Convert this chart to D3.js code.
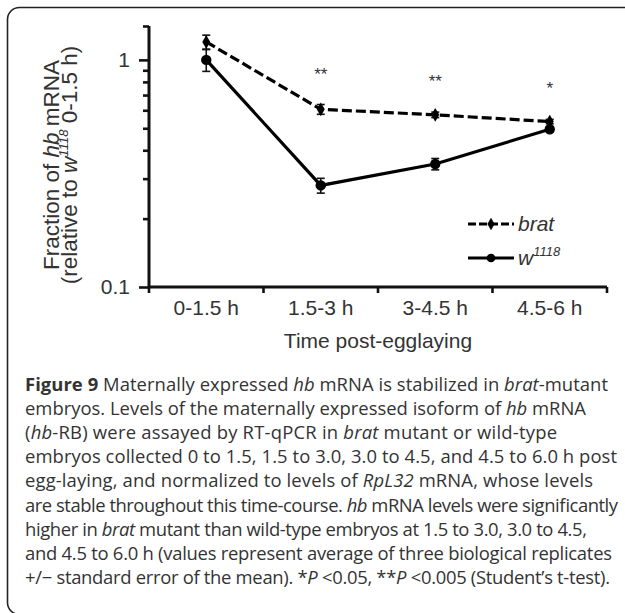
<!DOCTYPE html>
<html><head><meta charset="utf-8">
<script src="https://cdn.jsdelivr.net/npm/d3@7"></script>
<style>
body{margin:0;background:#fff}
svg{display:block}
</style>
</head><body>
<svg id="fig" width="625" height="613"></svg>
<script>
// Time windows after egg laying
const categories = ["0-1.5 h", "1.5-3 h", "3-4.5 h", "4.5-6 h"];
// hb mRNA fraction (relative to w1118 at 0-1.5 h), mean and SEM
const bratMean = [1.20, 0.606, 0.573, 0.535];
const bratErr  = [0.085, 0.030, 0.016, 0.012];
const wMean    = [1.00, 0.280, 0.348, 0.495];
const wErr     = [0.110, 0.021, 0.020, 0.012];
// Student's t-test marks per time window
const significance = ["", "**", "**", "*"];
// y axis ticks
const yMajorTicks = [0.1, 1];
const yMinorTicks = [0.2, 0.3, 0.4, 0.5, 0.6, 0.7, 0.8, 0.9];

// caption, one entry per typeset line: [style, text] runs
const captionLines = [
  [["b","Figure 9"],["n"," Maternally expressed "],["i","hb"],["n"," mRNA is stabilized in "],["i","brat"],["n","-mutant"]],
  [["n","embryos. Levels of the maternally expressed isoform of "],["i","hb"],["n"," mRNA"]],
  [["n","("],["i","hb"],["n","-RB) were assayed by RT-qPCR in "],["i","brat"],["n"," mutant or wild-type"]],
  [["n","embryos collected 0 to 1.5, 1.5 to 3.0, 3.0 to 4.5, and 4.5 to 6.0 h post"]],
  [["n","egg-laying, and normalized to levels of "],["i","RpL32"],["n"," mRNA, whose levels"]],
  [["n","are stable throughout this time-course. "],["i","hb"],["n"," mRNA levels were significantly"]],
  [["n","higher in "],["i","brat"],["n"," mutant than wild-type embryos at 1.5 to 3.0, 3.0 to 4.5,"]],
  [["n","and 4.5 to 6.0 h (values represent average of three biological replicates"]],
  [["n","+/\u2212 standard error of the mean). *"],["i","P"],["n"," <0.05, **"],["i","P"],["n"," <0.005 (Student\u2019s t-test)."]]
];
// typeset width of each caption line
const captionWidths = [583, 561, 532, 592, 568, 593, 562, 587, 585];

const svg = d3.select("#fig");
const chartFont = "'Liberation Sans', Arial, sans-serif";
const fs = 21;

// card frame (its bottom edge runs just past the page)
svg.append("rect")
  .attr("x", 7.5).attr("y", 7.5)
  .attr("width", 660).attr("height", 607)
  .attr("rx", 12).attr("ry", 12)
  .attr("fill", "#fff").attr("stroke", "#222").attr("stroke-width", 1.6);

const x = d3.scaleBand().domain(categories).range([149, 607]);
const cx = c => x(c) + x.bandwidth() / 2;
const y = d3.scaleLog().domain([0.1, 1.41]).range([287, 26]);

const g = svg.append("g");

// y axis: minor ticks, then major ticks with labels
const yMinor = g.append("g").attr("transform", "translate(149,0)")
  .call(d3.axisLeft(y).tickValues(yMinorTicks.concat([1.41])).tickSize(6).tickFormat(""));
const yMajor = g.append("g").attr("transform", "translate(149,0)")
  .call(d3.axisLeft(y).tickValues(yMajorTicks).tickSize(10).tickPadding(9)
    .tickFormat(d3.format("")));
[yMinor, yMajor].forEach(a => {
  a.select(".domain").remove();
  a.selectAll(".tick line").attr("stroke", "#111").attr("stroke-width", 2.6);
});
yMajor.selectAll(".tick text")
  .attr("font-family", chartFont).attr("font-size", fs).attr("fill", "#333");
g.append("line")
  .attr("x1", 149).attr("x2", 149).attr("y1", y(1.41)).attr("y2", y(0.1) + 1.3)
  .attr("stroke", "#111").attr("stroke-width", 3);

// x axis: labels under each window, ticks at window boundaries
const xAxis = g.append("g").attr("transform", "translate(0,287)")
  .call(d3.axisBottom(x).tickSize(0).tickPadding(13));
xAxis.select(".domain").remove();
xAxis.selectAll(".tick text")
  .attr("font-family", chartFont).attr("font-size", fs).attr("fill", "#333");
g.append("line")
  .attr("x1", 149).attr("x2", 607).attr("y1", 287).attr("y2", 287)
  .attr("stroke", "#111").attr("stroke-width", 3);
const bounds = categories.map(c => x(c)).concat([x.range()[1]]);
g.selectAll(".xb").data(bounds).join("line")
  .attr("x1", d => d).attr("x2", d => d).attr("y1", 287).attr("y2", 293)
  .attr("stroke", "#111").attr("stroke-width", 2.6);

// axis titles
g.append("text")
  .attr("x", 378).attr("y", 348).attr("text-anchor", "middle")
  .attr("font-family", chartFont).attr("font-size", fs).attr("fill", "#333")
  .text("Time post-egglaying");
const yt = g.append("g").attr("transform", "translate(0,165) rotate(-90)")
  .attr("font-family", chartFont).attr("font-size", 22.5).attr("fill", "#333")
  .attr("text-anchor", "middle");
const t1 = yt.append("text").attr("x", 0).attr("y", 59);
t1.append("tspan").text("Fraction of ");
t1.append("tspan").attr("font-style", "italic").text("hb");
t1.append("tspan").text(" mRNA");
const t2 = yt.append("text").attr("x", 0).attr("y", 77);
t2.append("tspan").text("(relative to ");
t2.append("tspan").attr("font-style", "italic").text("w");
t2.append("tspan").attr("font-style", "italic").attr("font-size", 13).attr("dy", -9).text("1118");
t2.append("tspan").attr("dy", 9).text(" 0-1.5 h)");

// series
const series = [
  {name: "brat", mean: bratMean, err: bratErr, dash: "10,4", symbol: d3.symbolDiamond, size: 55},
  {name: "w", mean: wMean, err: wErr, dash: null, symbol: d3.symbolCircle, size: 85}
];
const line = d3.line().x((d, i) => cx(categories[i])).y(d => y(d));

series.forEach(s => {
  const sg = g.append("g");
  sg.append("path").datum(s.mean).attr("d", line)
    .attr("fill", "none").attr("stroke", "#000").attr("stroke-width", 3.2)
    .attr("stroke-dasharray", s.dash);
  const eb = sg.selectAll(".eb").data(s.mean).join("g");
  eb.append("line")
    .attr("x1", (d, i) => cx(categories[i])).attr("x2", (d, i) => cx(categories[i]))
    .attr("y1", (d, i) => y(d + s.err[i])).attr("y2", (d, i) => y(d - s.err[i]))
    .attr("stroke", "#111").attr("stroke-width", 1.6);
  [1, -1].forEach(sign => {
    eb.append("line")
      .attr("x1", (d, i) => cx(categories[i]) - 4).attr("x2", (d, i) => cx(categories[i]) + 4)
      .attr("y1", (d, i) => y(d + sign * s.err[i])).attr("y2", (d, i) => y(d + sign * s.err[i]))
      .attr("stroke", "#111").attr("stroke-width", 1.6);
  });
  sg.selectAll(".pt").data(s.mean).join("path")
    .attr("d", d3.symbol().type(s.symbol).size(s.size))
    .attr("transform", (d, i) => `translate(${cx(categories[i])},${y(d)})`)
    .attr("fill", "#000");
});

// significance marks above the brat error bars
g.selectAll(".sig").data(significance).join("text")
  .attr("x", (d, i) => cx(categories[i]))
  .attr("y", (d, i) => y(bratMean[i] + bratErr[i]) - 25)
  .attr("text-anchor", "middle")
  .attr("font-family", chartFont).attr("font-size", 17).attr("fill", "#333")
  .text(d => d);

// legend
const legendRows = [
  {label: "brat", sup: null, dash: "8,3", symbol: d3.symbolDiamond, size: 45, y: 224},
  {label: "w", sup: "1118", dash: null, symbol: d3.symbolCircle, size: 60, y: 258}
];
legendRows.forEach(r => {
  g.append("line").attr("x1", 468).attr("x2", 514).attr("y1", r.y).attr("y2", r.y)
    .attr("stroke", "#000").attr("stroke-width", 3.2).attr("stroke-dasharray", r.dash);
  g.append("path").attr("d", d3.symbol().type(r.symbol).size(r.size)())
    .attr("transform", `translate(491,${r.y})`).attr("fill", "#000");
  const t = g.append("text").attr("x", 518).attr("y", r.y + 7)
    .attr("font-family", chartFont).attr("font-size", fs).attr("fill", "#333")
    .attr("font-style", "italic");
  t.append("tspan").text(r.label);
  if (r.sup) t.append("tspan").attr("font-size", 13).attr("dy", -9).text(r.sup);
});

// caption: one common size, then each line set to its typeset width
const cap = svg.append("g")
  .attr("font-family", "'Open Sans', 'Noto Sans', sans-serif")
  .attr("font-size", 17).attr("fill", "#333");
const capTexts = captionLines.map((parts, li) => {
  const t = cap.append("text").attr("x", 25).attr("y", 391 + li * 24.1);
  parts.forEach(([style, str]) => {
    const sp = t.append("tspan").text(str);
    if (style === "b") sp.attr("font-weight", "bold");
    if (style === "i") sp.attr("font-style", "italic");
  });
  return t;
});
const ratio = d3.median(capTexts, (t, i) => captionWidths[i] / t.node().getComputedTextLength());
cap.attr("font-size", 17 * ratio);
capTexts.forEach((t, i) => t.attr("textLength", captionWidths[i]).attr("lengthAdjust", "spacing"));
</script>
</body></html>
